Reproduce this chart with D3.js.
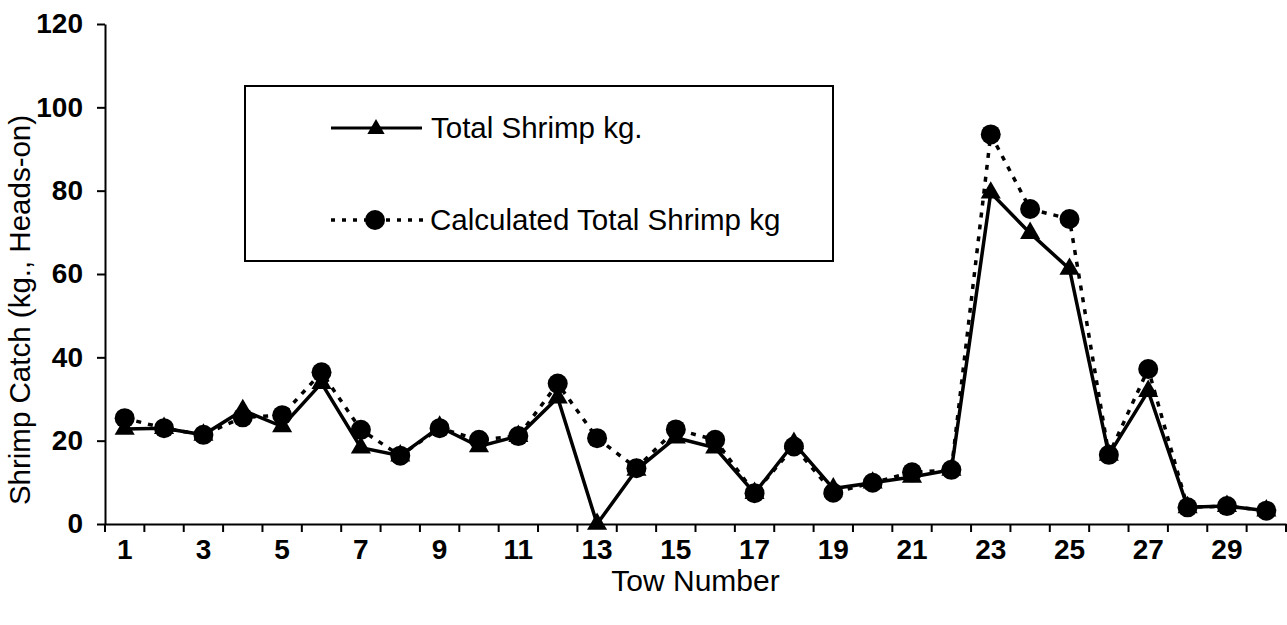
<!DOCTYPE html>
<html>
<head>
<meta charset="utf-8">
<script src="https://cdn.jsdelivr.net/npm/d3@7/dist/d3.min.js"></script>
<style>
  html, body { margin: 0; padding: 0; background: #fff; }
  svg { display: block; }
  text { font-family: "Liberation Sans", Arial, sans-serif; fill: #000; }
</style>
</head>
<body>
<svg id="chart" width="1287" height="625"></svg>
<script>
// Tow numbers (category axis)
const tows = [1, 2, 3, 4, 5, 6, 7, 8, 9, 10, 11, 12, 13, 14, 15,
              16, 17, 18, 19, 20, 21, 22, 23, 24, 25, 26, 27, 28, 29, 30];

// Measured total shrimp catch per tow (kg, heads-on)
const totalShrimp = [22.8, 23.0, 21.4, 27.3, 23.4, 33.8, 18.3, 16.4, 23.3, 18.6,
                     21.1, 30.3, 0.0, 13.0, 20.7, 18.3, 7.4, 19.4, 8.5, 9.9,
                     11.3, 13.0, 79.5, 69.8, 61.2, 16.6, 31.9, 4.0, 4.3, 3.2];

// Calculated total shrimp catch per tow (kg, heads-on)
const calcShrimp = [25.4, 23.0, 21.4, 25.6, 26.1, 36.4, 22.6, 16.4, 23.0, 20.2,
                    21.1, 33.7, 20.6, 13.4, 22.7, 20.2, 7.4, 18.6, 7.5, 9.9,
                    12.4, 13.0, 93.5, 75.6, 73.2, 16.6, 37.2, 4.0, 4.3, 3.2];

const yTicks = [0, 20, 40, 60, 80, 100, 120];
const xTickLabels = [1, 3, 5, 7, 9, 11, 13, 15, 17, 19, 21, 23, 25, 27, 29];

const seriesNames = ["Total Shrimp kg.", "Calculated Total Shrimp kg"];

const svg = d3.select("#chart");

const x = d3.scaleBand().domain(tows).range([105, 1286]).padding(0);
const y = d3.scaleLinear().domain([0, 120]).range([524, 24]);
const cx = d => x(d) + x.bandwidth() / 2;

// Y axis
const yAxis = svg.append("g")
  .attr("transform", `translate(${x.range()[0]},0)`)
  .call(d3.axisLeft(y).tickValues(yTicks).tickSize(8).tickPadding(14).tickSizeOuter(0));
yAxis.select(".domain").attr("stroke", "#000").attr("stroke-width", 2);
yAxis.selectAll(".tick line").attr("stroke", "#000").attr("stroke-width", 2);
yAxis.selectAll("text").style("font-size", "28px").style("font-weight", "bold").attr("fill", "#000");

// X axis labels (odd tows only, centred in each category)
const xAxis = svg.append("g")
  .attr("transform", `translate(0,${y(0)})`)
  .call(d3.axisBottom(x)
    .tickValues(xTickLabels)
    .tickSize(0)
    .tickPadding(15)
    .tickSizeOuter(0));
xAxis.select(".domain").attr("stroke", "#000").attr("stroke-width", 2);
xAxis.selectAll("text").style("font-size", "28px").style("font-weight", "bold").attr("fill", "#000");

// Category boundary tick marks
const boundaries = tows.map(d => x(d)).concat([x.range()[1]]);
svg.append("g").selectAll("line")
  .data(boundaries)
  .join("line")
  .attr("x1", d => d).attr("x2", d => d)
  .attr("y1", y(0)).attr("y2", y(0) + 8)
  .attr("stroke", "#000").attr("stroke-width", 2);

// Axis titles
svg.append("text")
  .attr("x", (x.range()[0] + x.range()[1]) / 2)
  .attr("y", 591)
  .attr("text-anchor", "middle")
  .style("font-size", "30px")
  .text("Tow Number");

svg.append("text")
  .attr("transform", "translate(30,310) rotate(-90)")
  .attr("text-anchor", "middle")
  .style("font-size", "29.5px")
  .text("Shrimp Catch (kg., Heads-on)");

// Series lines
const line = d3.line().x((d, i) => cx(tows[i])).y(d => y(d));

svg.append("path")
  .datum(calcShrimp)
  .attr("d", line)
  .attr("fill", "none")
  .attr("stroke", "#000")
  .attr("stroke-width", 3.5)
  .attr("stroke-dasharray", "5,7");

svg.append("path")
  .datum(totalShrimp)
  .attr("d", line)
  .attr("fill", "none")
  .attr("stroke", "#000")
  .attr("stroke-width", 3.5);

// Markers
const triangle = d3.symbol().type(d3.symbolTriangle).size(175);

svg.append("g").selectAll("path")
  .data(totalShrimp)
  .join("path")
  .attr("d", triangle)
  .attr("transform", (d, i) => `translate(${cx(tows[i])},${y(d)})`)
  .attr("fill", "#000");

svg.append("g").selectAll("circle")
  .data(calcShrimp)
  .join("circle")
  .attr("cx", (d, i) => cx(tows[i]))
  .attr("cy", d => y(d))
  .attr("r", 10)
  .attr("fill", "#000");

// Legend
const legend = svg.append("g");
legend.append("rect")
  .attr("x", 245).attr("y", 86)
  .attr("width", 588).attr("height", 175)
  .attr("fill", "#fff")
  .attr("stroke", "#000")
  .attr("stroke-width", 2);

legend.append("line")
  .attr("x1", 331).attr("x2", 422).attr("y1", 128).attr("y2", 128)
  .attr("stroke", "#000").attr("stroke-width", 3);
legend.append("path")
  .attr("d", d3.symbol().type(d3.symbolTriangle).size(130))
  .attr("transform", "translate(376,129)")
  .attr("fill", "#000");
legend.append("text")
  .attr("x", 431).attr("y", 128)
  .attr("dy", "0.35em")
  .style("font-size", "29.5px")
  .text(seriesNames[0]);

legend.append("line")
  .attr("x1", 331).attr("x2", 428).attr("y1", 220).attr("y2", 220)
  .attr("stroke", "#000").attr("stroke-width", 3.5)
  .attr("stroke-dasharray", "4,7");
legend.append("circle")
  .attr("cx", 375).attr("cy", 220).attr("r", 10)
  .attr("fill", "#000");
legend.append("text")
  .attr("x", 430).attr("y", 220)
  .attr("dy", "0.35em")
  .style("font-size", "29.5px")
  .text(seriesNames[1]);
</script>
</body>
</html>
